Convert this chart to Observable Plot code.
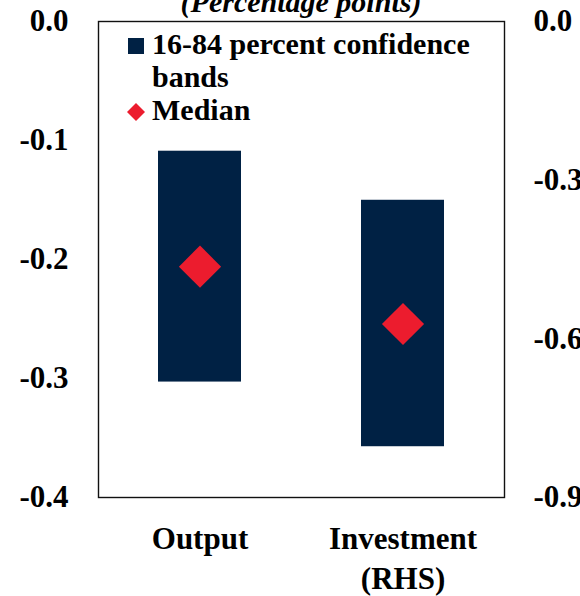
<!DOCTYPE html>
<html>
<head>
<meta charset="utf-8">
<script src="https://cdn.jsdelivr.net/npm/d3@7"></script>
<script src="https://cdn.jsdelivr.net/npm/@observablehq/plot@0.6"></script>
<style>
  html, body { margin: 0; padding: 0; background: #fff; }
  #wrap { position: relative; width: 580px; height: 596px; overflow: hidden;
          font-family: "Liberation Serif", "Times New Roman", serif; font-weight: bold; color: #000; }
  #title { position: absolute; left: 98px; width: 406px; top: -13px; text-align: center;
           font-size: 30px; line-height: 30px; font-style: italic; white-space: nowrap; }
  #legend { position: absolute; left: 128px; top: 27px; font-size: 30px; line-height: 33px; }
  #legend .row { white-space: nowrap; }
  #legend .sw { display: inline-block; width: 16px; height: 16px; margin-right: 8px; }
  #legend .indent { padding-left: 24px; }
</style>
</head>
<body>
<div id="wrap">
  <div id="chart"></div>
  <div id="title">(Percentage points)</div>
  <div id="legend"></div>
</div>
<script>
// ---- data ----
const categories = ["Output", "Investment (RHS)"];
const axisSide = ["left", "right"];
const lower = [-0.303, -0.804];   // 16th percentile
const upper = [-0.109, -0.338];   // 84th percentile
const median = [-0.206, -0.572];
const leftTicks = [0, -0.1, -0.2, -0.3, -0.4];
const rightTicks = [0, -0.3, -0.6, -0.9];
const leftDomain = [-0.4, 0];
const rightDomain = [-0.9, 0];
const legendLabels = ["16-84 percent confidence", "bands", "Median"];

const navy = "#002144";
const red = "#ec1c2e";
const rhsFactor = rightDomain[0] / leftDomain[0];

const data = categories.map((c, i) => {
  const k = axisSide[i] === "right" ? rhsFactor : 1;
  return { cat: c, lo: lower[i] / k, hi: upper[i] / k, med: median[i] / k };
});

const chart = Plot.plot({
  width: 580,
  height: 596,
  marginLeft: 98,
  marginRight: 76,
  marginTop: 21,
  marginBottom: 99,
  style: { fontFamily: "'Liberation Serif', 'Times New Roman', serif", fontWeight: "bold", fontSize: "31px", color: "#000", background: "#fff" },
  x: { domain: categories, paddingInner: 0.592, paddingOuter: 0.296 },
  y: { domain: leftDomain },
  marks: [
    Plot.barY(data, { x: "cat", y1: "lo", y2: "hi", fill: navy }),
    Plot.dot(data, { x: "cat", y: "med", symbol: "diamond2", r: 19, fill: red, stroke: null }),
    Plot.frame({ stroke: "#111", strokeWidth: 1.4 }),
    Plot.axisY({ anchor: "left", ticks: leftTicks, tickSize: 0, tickPadding: 30, label: null,
                 tickFormat: d => d.toFixed(1), fontSize: 31 }),
    Plot.axisY({ anchor: "right", ticks: rightTicks.map(v => v / rhsFactor), tickSize: 0, tickPadding: 29, label: null,
                 tickFormat: d => (d * rhsFactor).toFixed(1), fontSize: 31 }),
    Plot.axisX({ tickSize: 0, tickPadding: 23, label: null, fontSize: 31, lineHeight: 1.3,
                 tickFormat: d => d.replace(" (", "\n(") })
  ]
});
document.getElementById("chart").appendChild(chart);

// legend
const lg = document.getElementById("legend");
lg.innerHTML =
  `<div class="row"><span class="sw" style="background:${navy}"></span>${legendLabels[0]}</div>` +
  `<div class="row indent">${legendLabels[1]}</div>` +
  `<div class="row"><svg class="sw" viewBox="0 0 16 16" style="overflow:visible"><polygon points="8,-1 17,8 8,17 -1,8" fill="${red}"/></svg>${legendLabels[2]}</div>`;
</script>
</body>
</html>
